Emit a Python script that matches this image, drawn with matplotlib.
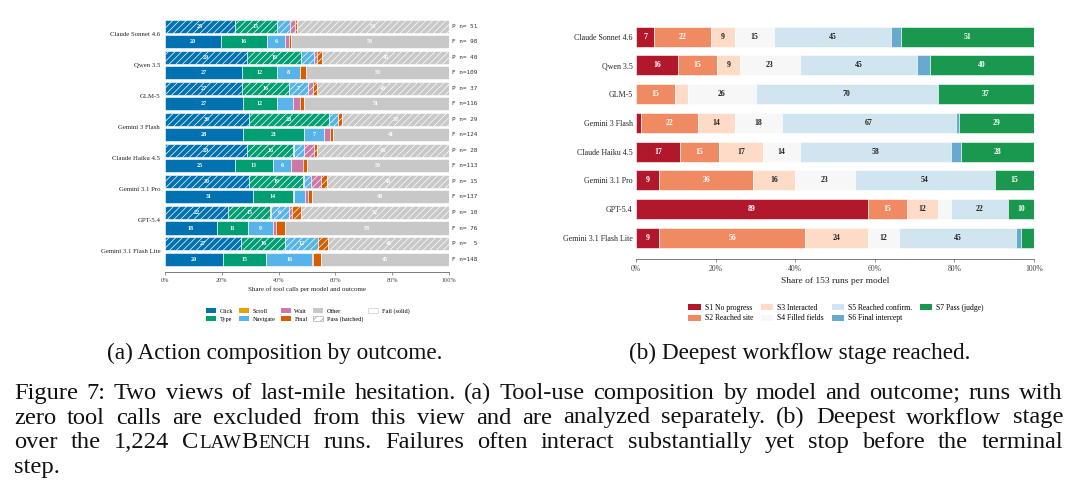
import matplotlib
matplotlib.use("Agg")
import matplotlib.pyplot as plt
import matplotlib.transforms as mtrans
from matplotlib.patches import Patch
import numpy as np

SERIF = "Liberation Serif"
MONO = "DejaVu Sans Mono"
plt.rcParams["hatch.linewidth"] = 0.5

# ---------------- data: panel (a) ----------------
models = ["Claude Sonnet 4.6", "Qwen 3.5", "GLM-5", "Gemini 3 Flash",
          "Claude Haiku 4.5", "Gemini 3.1 Pro", "GPT-5.4", "Gemini 3.1 Flash Lite"]
actions = ["Click", "Type", "Scroll", "Navigate", "Wait", "Final", "Other"]

pass_click = [24.6, 29.0, 27.2, 29.5, 28.8, 29.7, 22.1, 26.8]
pass_type = [14.8, 18.8, 16.3, 28.2, 16.4, 19.0, 15.0, 15.5]
pass_scroll = [0.2, 0.1, 0.1, 0.1, 0.1, 0.1, 0.1, 0.1]
pass_nav = [4.5, 4.5, 6.6, 3.2, 3.6, 2.7, 6.4, 11.5]
pass_wait = [1.5, 1.0, 1.8, 0.0, 3.5, 3.5, 1.2, 0.0]
pass_final = [0.9, 1.9, 1.6, 1.2, 1.1, 2.0, 3.1, 3.5]
pass_other = [53.5, 44.7, 46.4, 37.8, 46.5, 43.0, 52.1, 42.6]

fail_click = [19.6, 27.1, 27.4, 27.6, 24.6, 30.9, 18.2, 20.3]
fail_type = [16.3, 12.4, 11.9, 21.2, 13.4, 14.3, 10.9, 15.2]
fail_scroll = [0.1, 0.1, 0.1, 0.1, 0.1, 0.1, 0.1, 0.1]
fail_nav = [6.1, 7.9, 5.8, 7.2, 6.4, 4.0, 9.0, 16.3]
fail_wait = [1.7, 0.2, 2.5, 2.0, 4.1, 1.0, 0.9, 0.3]
fail_final = [0.6, 1.9, 1.1, 1.2, 1.3, 1.3, 3.2, 2.8]
fail_other = [55.6, 50.4, 51.2, 40.7, 50.1, 48.4, 57.7, 45.0]

pass_n = [51, 40, 37, 29, 28, 15, 10, 5]
fail_n = [98, 109, 116, 124, 113, 137, 76, 148]

# ---------------- data: panel (b) ----------------
stages = ["S1 No progress", "S2 Reached site", "S3 Interacted", "S4 Filled fields",
          "S5 Reached confirm.", "S6 Final intercept", "S7 Pass (judge)"]
s1 = [7, 16, 0, 2, 17, 9, 89, 9]
s2 = [22, 15, 15, 22, 15, 36, 15, 56]
s3 = [9, 9, 5, 14, 17, 16, 12, 24]
s4 = [15, 23, 26, 18, 14, 23, 5, 12]
s5 = [45, 45, 70, 67, 58, 54, 22, 45]
s6 = [4, 5, 0, 1, 4, 0, 0, 2]
s7 = [51, 40, 37, 29, 28, 15, 10, 5]
runs_per_model = 153

xticks = [0, 20, 40, 60, 80, 100]
xtick_labels = ["0%", "20%", "40%", "60%", "80%", "100%"]

# ---------------- styles ----------------
act_colors = ["#0072B2", "#009E73", "#E69F00", "#56B4E9", "#CC79A7", "#D55E00", "#C8C8C8"]
stage_colors = ["#B2182B", "#EF8A62", "#FDDBC7", "#F7F7F7", "#D1E5F0", "#67A9CF", "#1A9850"]
stage_text = ["white", "white", "#222222", "#222222", "#222222", "white", "white"]

W, H = 1080, 492
fig = plt.figure(figsize=(W / 100, H / 100), dpi=100)


def fx(px):
    return px / W


def fy(py):
    return 1 - py / H


def style_xaxis(ax, tsize):
    for s in ["top", "right", "left"]:
        ax.spines[s].set_visible(False)
    ax.spines["bottom"].set_color("#666666")
    ax.spines["bottom"].set_linewidth(0.6)
    ax.set_xlim(0, 100)
    ax.set_xticks(xticks)
    ax.set_xticklabels(xtick_labels, fontsize=tsize, family=SERIF, color="#444444")
    ax.tick_params(axis="x", length=2.5, width=0.5, color="#666666", pad=2)
    ax.tick_params(axis="y", length=0)


# ---------------- panel (a) ----------------
axL = fig.add_axes([fx(165), fy(272), (449 - 165) / W, (272 - 15) / H])
y = np.arange(len(models))
pass_data = [pass_click, pass_type, pass_scroll, pass_nav, pass_wait, pass_final, pass_other]
fail_data = [fail_click, fail_type, fail_scroll, fail_nav, fail_wait, fail_final, fail_other]
for data, off, hatch in [(pass_data, -0.245, "/////"), (fail_data, 0.245, None)]:
    left = np.zeros(len(models))
    for k, vals in enumerate(data):
        vals = np.array(vals, dtype=float)
        axL.barh(y + off, vals, left=left, height=0.42, color=act_colors[k],
                 edgecolor="white", linewidth=0.4, hatch=hatch)
        for i, v in enumerate(vals):
            if v >= 6:
                axL.text(left[i] + v / 2, y[i] + off, f"{v:.0f}", ha="center", va="center",
                         color="white", fontsize=4.3, fontweight="bold", family=SERIF)
        left += vals

trL = mtrans.blended_transform_factory(axL.transAxes, axL.transData)
for i in range(len(models)):
    axL.text(1.011, y[i] - 0.245, f"P n={pass_n[i]:>3}", transform=trL, ha="left", va="center",
             fontsize=4.3, family=MONO, color="#333333")
    axL.text(1.011, y[i] + 0.245, f"F n={fail_n[i]:>3}", transform=trL, ha="left", va="center",
             fontsize=4.3, family=MONO, color="#333333")

axL.set_ylim(7.66, -0.605)
axL.set_yticks(y)
axL.set_yticklabels(models, fontsize=4.9, family=SERIF, color="#222222")
axL.tick_params(axis="y", pad=3.5)
style_xaxis(axL, 4.5)
axL.set_xlabel("Share of tool calls per model and outcome", fontsize=5, family=SERIF,
               color="#222222", labelpad=2.5)

hL = [Patch(facecolor=c, edgecolor="none", label=a) for a, c in zip(actions, act_colors)]
hL.append(Patch(facecolor="white", edgecolor="#999999", hatch="////", linewidth=0.4,
                label="Pass (hatched)"))
hL.append(Patch(facecolor="white", edgecolor="#cccccc", linewidth=0.5, label="Fail (solid)"))
legL = fig.legend(handles=hL, loc="center", bbox_to_anchor=(fx(308), fy(315)), ncol=5,
                  frameon=False, prop={"family": SERIF, "size": 4.5}, handlelength=1.6,
                  handleheight=0.9, columnspacing=0.85, labelspacing=0.35, handletextpad=0.6)

# ---------------- panel (b) ----------------
axR = fig.add_axes([fx(636), fy(259), (1034 - 636) / W, (259 - 20) / H])
stage_data = [s1, s2, s3, s4, s5, s6, s7]
left = np.zeros(len(models))
for k, counts in enumerate(stage_data):
    counts = np.array(counts, dtype=float)
    share = counts / runs_per_model * 100
    axR.barh(y, share, left=left, height=0.695, color=stage_colors[k],
             edgecolor="white", linewidth=0.4)
    for i, c in enumerate(counts):
        if c >= 6:
            axR.text(left[i] + share[i] / 2, y[i], f"{c:.0f}", ha="center", va="center",
                     color=stage_text[k], fontsize=5.6, fontweight="bold", family=SERIF)
    left += share

axR.set_ylim(7.73, -0.58)
axR.set_yticks(y)
axR.set_yticklabels(models, fontsize=5.7, family=SERIF, color="#222222")
axR.tick_params(axis="y", pad=2.5)
style_xaxis(axR, 5.5)
axR.set_xlabel("Share of 153 runs per model", fontsize=6.8, family=SERIF,
               color="#222222", labelpad=3)

hR = [Patch(facecolor=c, edgecolor="none", label=s) for s, c in zip(stages, stage_colors)]
legR = fig.legend(handles=hR, loc="center", bbox_to_anchor=(fx(836), fy(313)), ncol=4,
                  frameon=False, prop={"family": SERIF, "size": 5.5}, handlelength=1.6,
                  handleheight=0.8, columnspacing=1.0, labelspacing=0.35, handletextpad=0.55)

# ---------------- captions ----------------
renderer = fig.canvas.get_renderer()


def text_width(s, size):
    t = fig.text(0, 0, s, fontsize=size, family=SERIF)
    w = t.get_window_extent(renderer=renderer).width
    t.remove()
    return w


SC = 0.78
sub_a = "(a) Action composition by outcome."
sub_b = "(b) Deepest workflow stage reached."
cap_lines = [
    "Figure 7: Two views of last-mile hesitation. (a) Tool-use composition by model and outcome; runs with",
    "zero tool calls are excluded from this view and are analyzed separately. (b) Deepest workflow stage",
    "over the 1,224 CLAWBENCH runs. Failures often interact substantially yet stop before the terminal",
    "step.",
]
baselines = [399, 423.5, 448, 472.5]
x0, x1 = 14, 1063


def pieces(word):
    if word == "CLAWBENCH":
        return [("C", 1.0), ("LAW", SC), ("B", 1.0), ("ENCH", SC)]
    return [(word, 1.0)]


def word_width(word, size):
    return sum(text_width(p, size * s) + 0.5 for p, s in pieces(word)) - 0.5


base = 10.0
fs_sub = base * 335.0 / text_width(sub_a, base)
fs = fs_sub * 1.05
sp = text_width("a a", fs) - text_width("aa", fs)

for li, line in enumerate(cap_lines):
    ws = line.split()
    widths = [word_width(w, fs) for w in ws]
    if li < 3 and len(ws) > 1:
        gap = ((x1 - x0) - sum(widths)) / (len(ws) - 1)
    else:
        gap = sp
    xp = x0
    for w, wd in zip(ws, widths):
        xx = xp
        for p, s in pieces(w):
            fig.text(fx(xx), fy(baselines[li]), p, fontsize=fs * s, family=SERIF,
                     ha="left", va="baseline", color="#111111")
            xx += text_width(p, fs * s) + 0.5
        xp += wd + gap

fig.text(fx(274.5), fy(359), sub_a, fontsize=fs_sub, family=SERIF,
         ha="center", va="baseline", color="#111111")
fig.text(fx(800), fy(359), sub_b, fontsize=fs_sub, family=SERIF,
         ha="center", va="baseline", color="#111111")

fig.savefig("out.png", dpi=100)
